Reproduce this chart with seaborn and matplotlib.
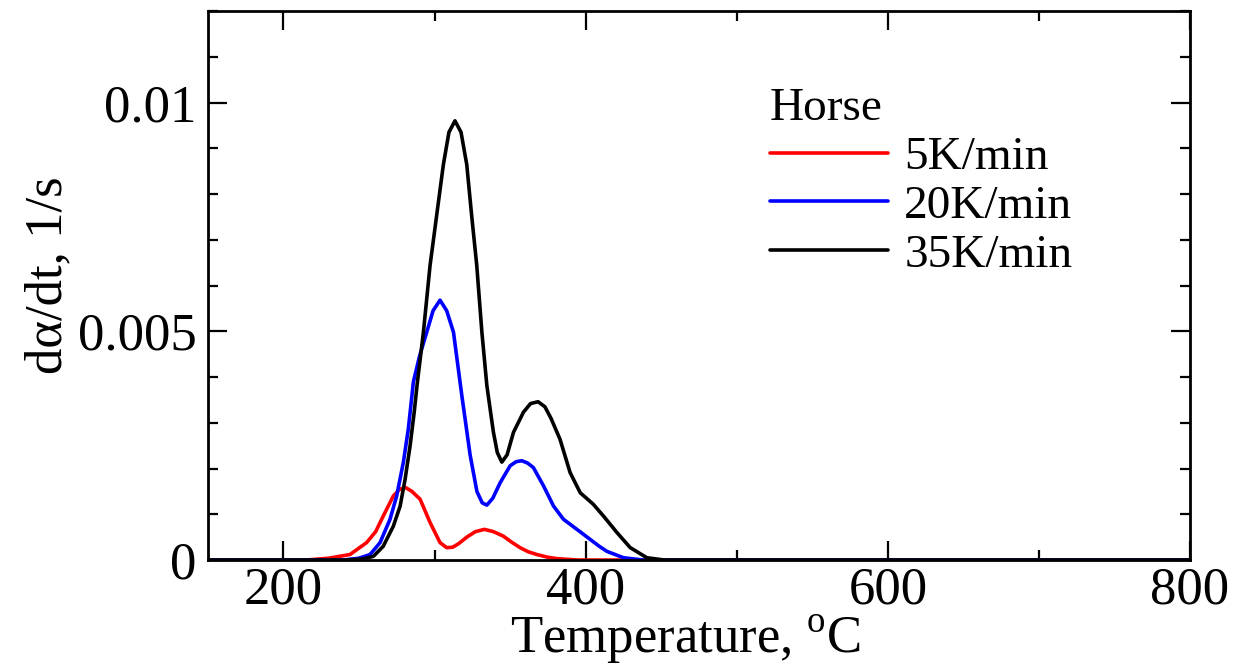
import numpy as np
import matplotlib
matplotlib.use("Agg")
import matplotlib.pyplot as plt
from matplotlib.ticker import MultipleLocator
import seaborn as sns

# rates in units of 1e-3 1/s
temp_5 = [150, 215, 230, 244, 255, 261, 266, 272.7, 277, 281, 285, 290.4, 297, 303.6, 308,
          312, 316, 321.3, 327, 333, 339, 345.6, 351, 356.6, 362, 367.7, 375, 381, 395, 800]
rate_5 = [0, 0, 0.04, 0.12, 0.38, 0.62, 0.96, 1.40, 1.55, 1.58, 1.50, 1.33, 0.82, 0.38, 0.27,
          0.28, 0.36, 0.50, 0.62, 0.67, 0.62, 0.52, 0.39, 0.27, 0.18, 0.12, 0.06, 0.03, 0, 0]

temp_20 = [150, 240, 250, 257.3, 263.9, 270.5, 274.9, 279.3, 282.6, 286, 290, 294.8, 299, 303.6,
           308, 312.5, 318, 323.5, 328, 331.5, 334.6, 338.5, 343.4, 350, 354, 357.7, 361.5, 365.4,
           372.1, 378.7, 385.3, 394.2, 403, 409, 414, 425, 438, 800]
rate_20 = [0, 0, 0.04, 0.12, 0.38, 0.89, 1.40, 2.13, 2.86, 3.90, 4.45, 4.98, 5.45, 5.68,
           5.45, 4.98, 3.60, 2.30, 1.50, 1.25, 1.20, 1.35, 1.69, 2.06, 2.15, 2.17, 2.12, 2.02,
           1.62, 1.18, 0.89, 0.67, 0.45, 0.30, 0.19, 0.05, 0, 0]

temp_35 = [150, 240, 252, 259.5, 266, 272.7, 277.2, 280.5, 283.8, 286.5, 288.5, 292.6, 297, 301.4,
           305.8, 309.5, 313.5, 317.5, 321.3, 324.5, 327.9, 331.3, 334.6, 338.9, 341.5, 344.5, 348,
           352.2, 358.8, 363.5, 368.5, 373, 377, 383, 389.7, 396.4, 405, 411.8, 420.7, 429.5,
           440.5, 452, 800]
rate_35 = [0, 0, 0.02, 0.08, 0.30, 0.74, 1.18, 1.77, 2.50, 3.23, 3.85, 4.98, 6.44, 7.54,
           8.64, 9.35, 9.60, 9.35, 8.64, 7.54, 6.44, 4.98, 3.81, 2.80, 2.35, 2.14, 2.30,
           2.79, 3.23, 3.42, 3.46, 3.35, 3.10, 2.64, 1.91, 1.47, 1.22, 0.96, 0.60, 0.27,
           0.05, 0, 0]

labels = ["5K/min", "20K/min", "35K/min"]
colors = ["#ff0000", "#0000ff", "#000000"]

sns.set_style("ticks")
plt.rcParams.update({
    "font.family": "Liberation Serif",
    "mathtext.fontset": "custom",
    "mathtext.rm": "Liberation Serif",
    "font.size": 38,
    "text.color": "black",
    "axes.labelcolor": "black",
    "axes.edgecolor": "black",
    "xtick.color": "black",
    "ytick.color": "black",
})

fig = plt.figure(figsize=(12.43, 6.71), dpi=100)
ax = fig.add_axes([0.1673, 0.1654, 0.7901, 0.8182])

series = [(temp_5, rate_5), (temp_20, rate_20), (temp_35, rate_35)]
for (t, r), lab, c in zip(series, labels, colors):
    sns.lineplot(x=t, y=np.array(r) * 1e-3, ax=ax, color=c, linewidth=2.6, label=lab)

ax.set_xlim(150, 800)
ax.set_ylim(0, 0.012)
ax.xaxis.set_major_locator(MultipleLocator(200))
ax.xaxis.set_minor_locator(MultipleLocator(100))
ax.set_yticks([0, 0.005, 0.01])
ax.set_yticklabels(["0", "0.005", "0.01"])
ax.yaxis.set_minor_locator(MultipleLocator(0.001))

ax.tick_params(which="both", direction="in", top=True, right=True, width=1.6, labelsize=38)
ax.tick_params(which="major", length=14)
ax.tick_params(which="minor", length=7)
ax.tick_params(axis="x", pad=5)
ax.tick_params(axis="y", pad=8)
for s in ax.spines.values():
    s.set_linewidth(2)

ax.set_xlabel(r"Temperature, $^{\mathrm{o}}$C", fontsize=38)
ax.xaxis.set_label_coords(0.486, -0.095)
ax.set_ylabel("dα/dt, 1/s", fontsize=38)
ax.yaxis.set_label_coords(-0.1385, 0.519)

ax.legend(title="Horse", loc="upper left", bbox_to_anchor=(0.572, 0.86), frameon=False,
          fontsize=34, title_fontsize=34, handlelength=2.5, handletextpad=0.35,
          labelspacing=0.12, borderpad=0, borderaxespad=0, alignment="left")

fig.savefig("out.png", dpi=100)
